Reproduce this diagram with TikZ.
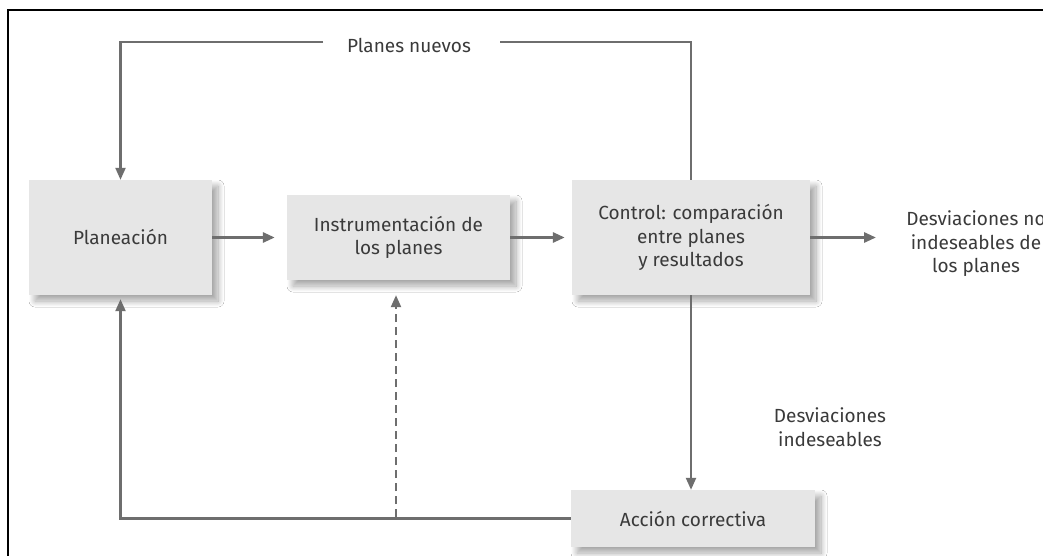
\documentclass[tikz,border=0pt]{standalone}
\usepackage{fontspec}
\setmainfont{Fira Sans}
\usetikzlibrary{arrows.meta,shadows.blur,calc}
\definecolor{ln}{HTML}{6E6E6E}
\definecolor{bx}{HTML}{E6E6E6}
\definecolor{tx}{HTML}{3A3A3A}
\begin{document}
\begin{tikzpicture}[x=1pt,y=-1pt,
  box/.style={fill=bx, draw=none, text=tx, align=center, inner sep=0pt,
    font=\fontsize{19}{23.5}\selectfont,
    blur shadow={shadow xshift=6pt, shadow yshift=-6pt, shadow blur steps=12, shadow blur radius=6pt, shadow opacity=35}},
  lbl/.style={text=tx, align=center, inner sep=0pt, font=\fontsize{19}{23.5}\selectfont},
  conn/.style={draw=ln, line width=2.8pt, -{Triangle[length=12pt,width=10pt]}},
  fb/.style={draw=ln, line width=2.2pt},
  fba/.style={fb, -{Triangle[length=12pt,width=10pt]}}
]
\useasboundingbox (0,0) rectangle (1043,556);
\fill[white] (0,0) rectangle (1043,556);
\draw[black, line width=1.6pt] (8,556) -- (8,10) -- (1043,10);

\node[box, minimum width=183pt, minimum height=115pt] (plan) at (120.5,237.5) {Planeación};
\node[box, minimum width=223pt, minimum height=85pt] (instr) at (398.5,237.5) {Instrumentación de\\los planes};
\node[box, minimum width=238pt, minimum height=115pt] (ctl) at (691,237.5) {Control: comparación\\entre planes\\y resultados};
\node[box, minimum width=244pt, minimum height=57pt] (acc) at (693,518.5) {Acción correctiva};

\node[lbl] (pn) at (409,45) {Planes nuevos};
\node[lbl] (desv) at (976,244) {Desviaciones no\\indeseables de\\los planes};
\node[lbl] (di) at (830,427) {Desviaciones\\indeseables};

\coordinate (pnR) at (500,42);
\coordinate (pnL) at (323,42);
\coordinate (outTip) at (876,237.5);
\coordinate (dsh) at (396,517);

\draw[fb] (ctl.north) |- (pnR);
\draw[fba] (pnL) -| (plan.north);
\draw[conn, shorten >=12pt] (plan.east) -- (instr.west);
\draw[conn, shorten >=7pt] (instr.east) -- (ctl.west);
\draw[conn] (ctl.east) -- (outTip);
\draw[fba] (ctl.south) -- (ctl.south |- acc.north);
\draw[fba, shorten >=4pt] (acc.west) -| (plan.south);
\draw[fba, dashed, dash pattern=on 8pt off 5pt, shorten >=15pt] (dsh) -- (dsh |- instr.south);
\end{tikzpicture}
\end{document}
